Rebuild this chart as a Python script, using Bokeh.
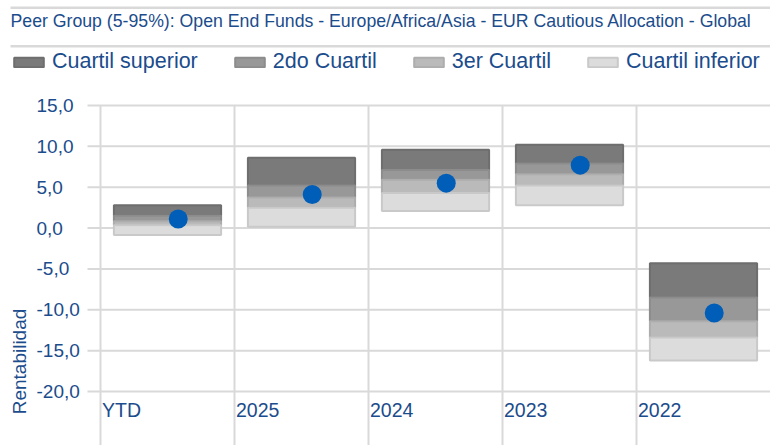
import math
from bokeh.plotting import figure
from bokeh.models import Range1d, Legend, LegendItem, ColumnDataSource
from bokeh.core.properties import value
from bokeh.embed import file_html
from bokeh.resources import INLINE

# ---- data ----
categories = ["YTD", "2025", "2024", "2023", "2022"]
p95 = [2.8, 8.6, 9.6, 10.2, -4.3]
p75 = [1.5, 5.2, 7.1, 7.9, -8.5]
p50 = [0.85, 3.75, 5.9, 6.6, -11.4]
p25 = [0.35, 2.5, 4.3, 5.2, -13.4]
p05 = [-0.85, 0.15, 2.1, 2.8, -16.2]
fund = [1.1, 4.1, 5.5, 7.7, -10.4]
y_ticks = [15, 10, 5, 0, -5, -10, -15, -20]
y_tick_labels = ["15,0", "10,0", "5,0", "0,0", "-5,0", "-10,0", "-15,0", "-20,0"]
band_names = ["Cuartil superior", "2do Cuartil", "3er Cuartil", "Cuartil inferior"]
title_text = "Peer Group (5-95%): Open End Funds - Europe/Africa/Asia - EUR Cautious Allocation - Global"
y_title = "Rentabilidad"

FONT = "Liberation Sans"
BLUE_TXT = "#1b4c8c"
GRID = "#d9d9d9"
fills = ["#7a7a7a", "#989898", "#bababa", "#dcdcdc"]
lines = ["#6e6e6e", "#8c8c8c", "#adadad", "#c9c9c9"]

W, H = 770, 445
# layout of the canvas (pixels): plot area left edge, pixel per category, y=15 line, px per unit
X0_PX, CAT_PX = 100.0, 134.0
Y15_PX, UNIT_PX = 105.0, 8.1714


def dx(px):
    return (px - X0_PX) / CAT_PX


def dy(py):
    return 15 - (py - Y15_PX) / UNIT_PX


p = figure(width=W, height=H, x_range=Range1d(dx(0), dx(W)), y_range=Range1d(dy(H), dy(0)),
           x_axis_location=None, y_axis_location=None, toolbar_location=None,
           output_backend="svg", min_border=0)
p.outline_line_color = None
p.xgrid.visible = False
p.ygrid.visible = False
p.background_fill_color = "white"

n = len(categories)
ymin = dy(H)

# header: separators and title
p.segment(x0=[dx(10)] * 2, y0=[dy(7.3), dy(45.7)], x1=[dx(W)] * 2, y1=[dy(7.3), dy(45.7)],
          line_color=GRID, line_width=2.5)
p.text(x=[dx(10)], y=[dy(20.7)], text=[title_text], text_font=value(FONT),
       text_font_size="17.7px", text_color=BLUE_TXT, text_align="left", text_baseline="middle")

# horizontal gridlines + outward tick marks
p.segment(x0=[dx(87)] * len(y_ticks), y0=y_ticks, x1=[dx(W)] * len(y_ticks), y1=y_ticks,
          line_color=GRID, line_width=2)
# vertical category separators
p.segment(x0=list(range(n)), y0=[ymin] * n, x1=list(range(n)), y1=[max(y_ticks)] * n,
          line_color=GRID, line_width=2)

# y tick labels
p.text(x=[dx(36)] * len(y_ticks), y=y_ticks, text=y_tick_labels, text_font=value(FONT),
       text_font_size="19px", text_color=BLUE_TXT, text_align="left", text_baseline="middle")
# y axis title
p.text(x=[dx(18.5)], y=[dy(361)], text=[y_title], angle=math.pi / 2, text_font=value(FONT),
       text_font_size="19px", text_color=BLUE_TXT, text_align="center", text_baseline="middle")

src = ColumnDataSource(dict(x=[i + 0.5 for i in range(n)], xl=[i + 1.5 / CAT_PX for i in range(n)],
                            xd=[i + 0.58 for i in range(n)], cat=categories,
                            p95=p95, p75=p75, p50=p50, p25=p25, p05=p05, fund=fund,
                            ylab=[dy(409)] * n))
bands = [("p75", "p95"), ("p50", "p75"), ("p25", "p50"), ("p05", "p25")]
items = []
for (b, t), fc, lc, name in zip(bands, fills, lines, band_names):
    r = p.vbar(x="x", bottom=b, top=t, width=0.8, source=src, fill_color=fc,
               line_color=lc, line_width=2)
    items.append(LegendItem(label=name, renderers=[r]))
p.scatter(x="xd", y="fund", source=src, size=19, fill_color="#005eb8", line_color=None)
p.text(x="xl", y="ylab", text="cat", source=src, text_font=value(FONT),
       text_font_size="19.5px", text_color=BLUE_TXT, text_align="left",
       text_baseline="middle")

legend = Legend(items=items, orientation="horizontal", location=(10, H - 74),
                glyph_width=37, glyph_height=12, label_standoff=5, spacing=33,
                padding=0, margin=0, border_line_color=None, background_fill_alpha=0,
                label_text_font=FONT, label_text_font_size="21.5px",
                label_text_color=BLUE_TXT, label_height=24)
p.add_layout(legend, "center")

open("out.html", "w").write(file_html(p, INLINE))
